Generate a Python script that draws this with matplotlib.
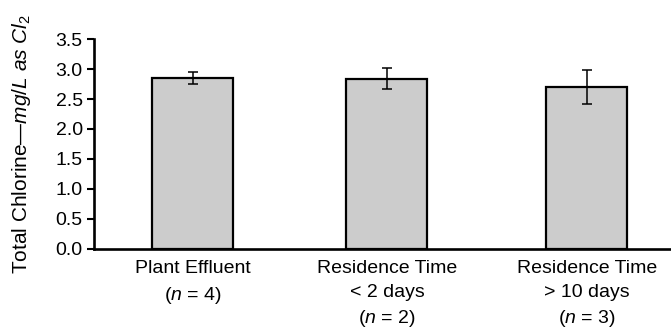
import matplotlib.pyplot as plt

plt.rcParams['font.family'] = ['Liberation Sans', 'DejaVu Sans']
plt.rcParams['mathtext.fontset'] = 'custom'
plt.rcParams['mathtext.rm'] = 'Liberation Sans'
plt.rcParams['mathtext.it'] = 'Liberation Sans:italic'

# Data
categories = ['Plant Effluent\n($\\mathit{n}$ = 4)',
              'Residence Time\n< 2 days\n($\\mathit{n}$ = 2)',
              'Residence Time\n> 10 days\n($\\mathit{n}$ = 3)']
chlorine = [2.85, 2.84, 2.70]
errors = [0.10, 0.17, 0.29]
positions = [0, 1, 2.03]

fig = plt.figure(figsize=(6.71, 3.28), dpi=100)
ax = fig.add_axes([0.140, 0.241, 0.860, 0.640])

ax.bar(positions, chlorine, width=0.418, color='#cccccc', edgecolor='black',
       linewidth=1.6, zorder=2)
ax.errorbar(positions, chlorine, yerr=errors, fmt='none', ecolor='black',
            elinewidth=1.1, capsize=3.3, capthick=1.1, zorder=3)

ax.set_ylim(0, 3.5)
ax.set_xlim(-0.51, 2.464)
ax.set_yticks([0, 0.5, 1.0, 1.5, 2.0, 2.5, 3.0, 3.5])
ax.set_yticklabels(['0.0', '0.5', '1.0', '1.5', '2.0', '2.5', '3.0', '3.5'])
ax.set_xticks(positions)
ax.set_xticklabels(categories, linespacing=1.5)

ax.spines['top'].set_visible(False)
ax.spines['right'].set_visible(False)
ax.spines['left'].set_linewidth(1.9)
ax.spines['bottom'].set_linewidth(1.9)
ax.tick_params(axis='y', direction='out', length=5, width=1.5, labelsize=14, pad=3)
ax.tick_params(axis='x', length=0, labelsize=14, pad=8)

ax.set_ylabel('Total Chlorine—$\\mathit{mg/L\\ as\\ Cl}_2$', fontsize=15)
ax.yaxis.set_label_coords(-0.106, 0.5)

fig.savefig('out.png', dpi=100)
